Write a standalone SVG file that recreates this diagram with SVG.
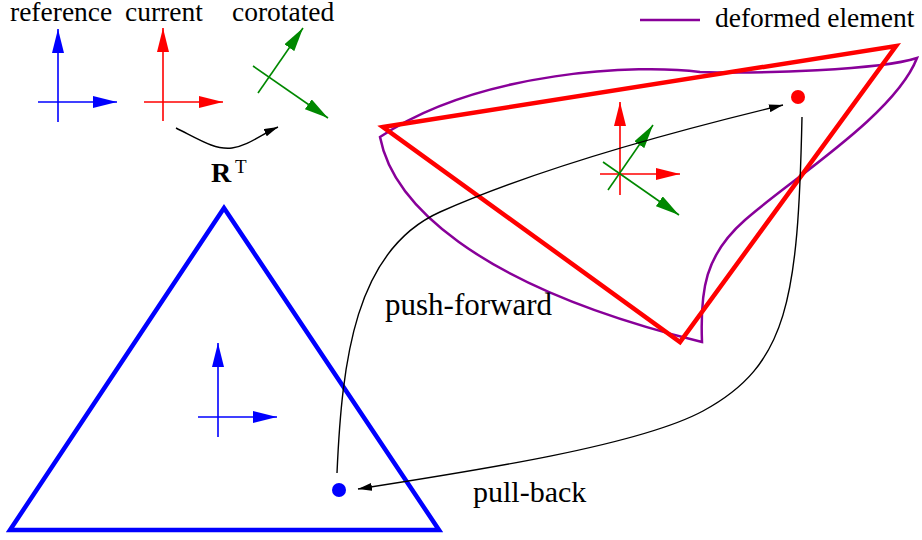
<svg xmlns="http://www.w3.org/2000/svg" width="922" height="540" viewBox="0 0 922 540">
<defs>
<marker id="hb" markerUnits="userSpaceOnUse" markerWidth="24" markerHeight="12" refX="24" refY="6" orient="auto"><path d="M0,0 L24,6 L0,12 z" fill="#0000ff"/></marker>
<marker id="hr" markerUnits="userSpaceOnUse" markerWidth="24" markerHeight="12" refX="24" refY="6" orient="auto"><path d="M0,0 L24,6 L0,12 z" fill="#ff0000"/></marker>
<marker id="hg" markerUnits="userSpaceOnUse" markerWidth="24" markerHeight="12" refX="24" refY="6" orient="auto"><path d="M0,0 L24,6 L0,12 z" fill="#008800"/></marker>
<marker id="hk" markerUnits="userSpaceOnUse" markerWidth="14" markerHeight="8" refX="14" refY="4" orient="auto"><path d="M0,0 L14,4 L0,8 z" fill="#000"/></marker>
</defs>
<style>
text{font-family:"Liberation Serif","Times New Roman",serif;font-size:27.5px;fill:#000}
.b{stroke:#0000ff;stroke-width:1.6;fill:none}
.r{stroke:#ff0000;stroke-width:1.6;fill:none}
.g{stroke:#008800;stroke-width:1.6;fill:none}
.k{stroke:#000;stroke-width:1.4;fill:none}
</style>
<rect width="922" height="540" fill="#fff"/>
<g id="legend-frames">
<text x="10" y="21">reference</text>
<text x="125" y="21">current</text>
<text x="232" y="21">corotated</text>
<line class="b" x1="58" y1="122" x2="58" y2="29" marker-end="url(#hb)"/>
<line class="b" x1="38" y1="102" x2="117" y2="102" marker-end="url(#hb)"/>
<line class="r" x1="163" y1="121" x2="163" y2="28" marker-end="url(#hr)"/>
<line class="r" x1="144" y1="102" x2="223" y2="102" marker-end="url(#hr)"/>
<line class="g" x1="258" y1="93" x2="303" y2="28" marker-end="url(#hg)"/>
<line class="g" x1="253" y1="66" x2="328" y2="118" marker-end="url(#hg)"/>
<path class="k" d="M176,128 C200,140 215,150 232,148 C248,146 262,134 278,127" marker-end="url(#hk)"/>
<text x="211" y="182" font-weight="bold" style="font-size:28px">R</text>
<text x="235" y="173" style="font-size:19px">T</text>
</g>
<g id="legend-deformed">
<line x1="640" y1="20" x2="700" y2="20" stroke="#880099" stroke-width="2.5"/>
<text x="715" y="27">deformed element</text>
</g>
<g id="reference-element">
<polygon points="224,208 10,530 439,530" fill="none" stroke="#0000ff" stroke-width="4.5"/>
<line class="b" x1="218" y1="437" x2="218" y2="343" marker-end="url(#hb)"/>
<line class="b" x1="198" y1="417" x2="277" y2="417" marker-end="url(#hb)"/>
<circle cx="339" cy="490" r="7" fill="#0000ff"/>
</g>
<g id="deformed-element">
<path d="M380,137 C392,200 470,285 702,342 C700,290 705,255 745,220 C790,180 895,115 917,58 C880,70 760,74 700,72 C640,64 480,70 380,137 Z" fill="none" stroke="#880099" stroke-width="2.5"/>
</g>
<g id="current-element">
<polygon points="383,127 896,46 680,342" fill="none" stroke="#ff0000" stroke-width="4.5"/>
<line class="r" x1="620" y1="195" x2="620" y2="102" marker-end="url(#hr)"/>
<line class="r" x1="600" y1="174" x2="680" y2="174" marker-end="url(#hr)"/>
<line class="g" x1="608" y1="190" x2="653" y2="125" marker-end="url(#hg)"/>
<line class="g" x1="603" y1="162" x2="679" y2="215" marker-end="url(#hg)"/>
<circle cx="798" cy="97" r="7" fill="#ff0000"/>
</g>
<g id="connectors">
<path class="k" d="M337,473 C342,360 355,250 440,212 C530,172 650,137 783,105" marker-end="url(#hk)"/>
<path class="k" d="M802,117 C798,300 788,365 703,411 C640,445 480,470 358,489" marker-end="url(#hk)"/>
<text x="385" y="315" style="font-size:31px">push-forward</text>
<text x="473" y="502" style="font-size:30px">pull-back</text>
</g>
</svg>
